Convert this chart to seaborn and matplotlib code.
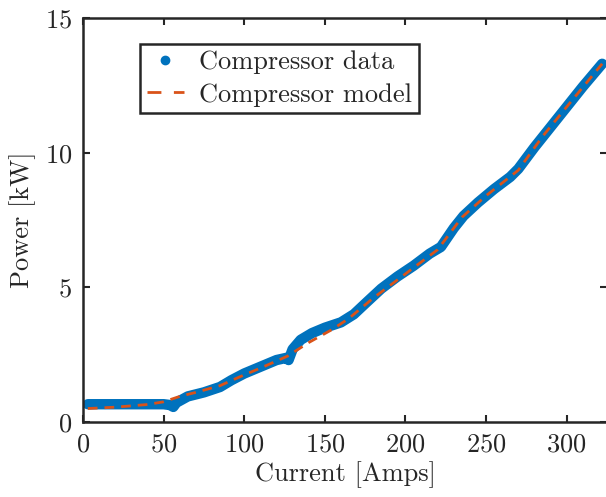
import matplotlib
matplotlib.use("Agg")
import matplotlib.pyplot as plt
import seaborn as sns
import pandas as pd
from matplotlib.lines import Line2D

# Data
data_current = [3, 20, 40, 50, 54, 56, 58, 65, 75, 85, 92, 100, 110, 120, 126, 127.5,
                130, 135, 142, 150, 160, 168, 176, 185, 195, 205, 215, 222, 230, 236,
                245, 255, 265, 270, 280, 290, 300, 310, 322]
data_power = [0.66, 0.66, 0.66, 0.66, 0.63, 0.56, 0.72, 0.95, 1.1, 1.3, 1.55, 1.8, 2.05,
              2.3, 2.38, 2.3, 2.7, 3.05, 3.3, 3.5, 3.7, 4.0, 4.45, 4.95, 5.4, 5.8, 6.25,
              6.5, 7.2, 7.65, 8.15, 8.65, 9.1, 9.4, 10.2, 10.95, 11.7, 12.45, 13.3]
model_current = [3, 20, 40, 50, 60, 70, 85, 100, 110, 127, 140, 155, 165, 180, 200,
                 220, 235, 250, 270, 285, 300, 322]
model_power = [0.5, 0.55, 0.65, 0.75, 0.95, 1.1, 1.35, 1.75, 2.0, 2.45, 2.95, 3.45,
               3.85, 4.6, 5.5, 6.4, 7.6, 8.4, 9.35, 10.6, 11.7, 13.3]

xticks = [0, 50, 100, 150, 200, 250, 300]
yticks = [0, 5, 10, 15]
x_label = "Current [Amps]"
y_label = "Power [kW]"
labels = ["Compressor data", "Compressor model"]

blue = "#0072BD"
orange = "#D95319"
dark = "#262626"
fs = 19

sns.set_style("ticks")
plt.rcParams["font.family"] = ["cmr10", "DejaVu Sans"]
plt.rcParams["axes.formatter.use_mathtext"] = True
plt.rcParams["mathtext.fontset"] = "cm"

fig = plt.figure(figsize=(6.06, 4.97), dpi=100)
ax = fig.add_axes([83 / 606, 1 - 422 / 497, 524 / 606, (422 - 18) / 497])

df_data = pd.DataFrame({"x": data_current, "y": data_power})
df_model = pd.DataFrame({"x": model_current, "y": model_power})

sns.lineplot(data=df_data, x="x", y="y", ax=ax, color=blue, linewidth=7.5,
             solid_capstyle="round", solid_joinstyle="round", sort=False)
sns.lineplot(data=df_model, x="x", y="y", ax=ax, color=orange, linewidth=2,
             dashes=False, sort=False)
ax.lines[-1].set_dashes([3.5, 2.5])

ax.set_xlim(0, 325)
ax.set_ylim(0, 15)
ax.set_xticks(xticks)
ax.set_yticks(yticks)
ax.set_xlabel(x_label, fontsize=fs, color=dark, labelpad=3)
ax.set_ylabel(y_label, fontsize=fs, color=dark, labelpad=6)
ax.tick_params(direction="in", length=5, width=1.5, colors=dark, labelsize=fs,
               top=True, right=True, pad=8)
for s in ax.spines.values():
    s.set_linewidth(1.8)
    s.set_color(dark)

handles = [
    Line2D([], [], color=blue, marker="o", linestyle="none", markersize=6),
    Line2D([], [], color=orange, linestyle=(0, (5, 4.5)), linewidth=2),
]
leg = ax.legend(handles, labels, loc="upper left",
                bbox_to_anchor=(140 / 606, 1 - 44 / 497),
                bbox_transform=fig.transFigure, fontsize=fs, frameon=True,
                fancybox=False, framealpha=1, edgecolor=dark,
                borderpad=0.25, labelspacing=0.32, handlelength=1.4,
                handletextpad=0.6, borderaxespad=0)
leg.get_frame().set_linewidth(1.8)
for t in leg.get_texts():
    t.set_color(dark)

fig.savefig("out.png", dpi=100)
